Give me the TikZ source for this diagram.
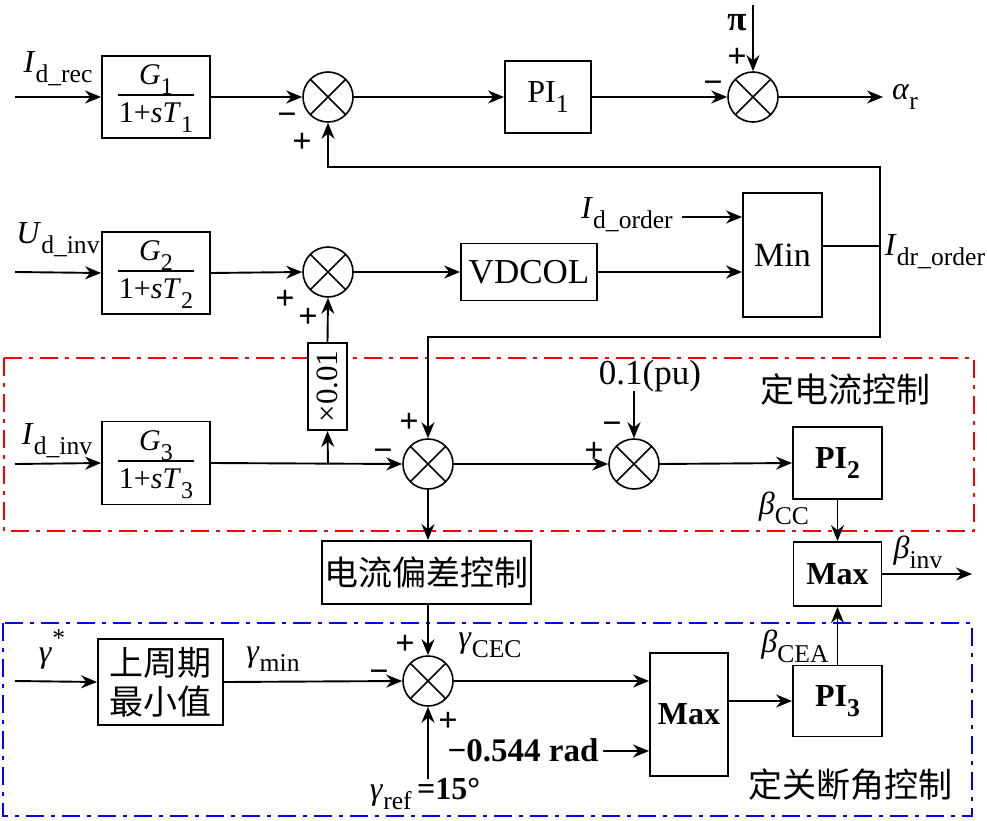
\documentclass[tikz,border=0pt]{standalone}
\usepackage{fontspec}
\setmainfont{Liberation Serif}
\newfontfamily\cjk{Noto Sans CJK SC}
\usetikzlibrary{arrows.meta}
\newcommand\lo[1]{\raisebox{-0.32em}{\scalebox{0.8}{#1}}}
\newcommand\gfrac[2]{{\setlength\arrayrulewidth{1.8pt}\begin{tabular}{@{\hspace{1pt}}c@{\hspace{1pt}}}#1\\[-1pt]\hline\rule{0pt}{27pt}#2\end{tabular}}}
\tikzset{
  blk/.style={draw, line width=1.9pt, fill=white, inner sep=0pt, align=center},
  sumnode/.style={draw, circle, line width=1.6pt, minimum size=50pt, inner sep=0pt,
    path picture={\draw[line width=1.6pt] (path picture bounding box.north west)--(path picture bounding box.south east)
      (path picture bounding box.north east)--(path picture bounding box.south west);}},
  arr/.style={line width=1.9pt, -{Stealth[length=16pt,width=13pt]}},
  ln/.style={line width=1.9pt},
  lbl/.style={inner sep=0pt, font=\fontsize{32}{36}\selectfont},
  sgn/.style={inner sep=0pt, text height=17pt, text depth=0pt, font=\bfseries\fontsize{34}{36}\selectfont, yshift=-6pt},
  zh/.style={inner sep=0pt, font=\cjk\fontsize{34}{40}\selectfont},
  reddash/.style={draw=red, line width=2.2pt, dash pattern=on 18pt off 7pt on 4pt off 7pt},
  bluedash/.style={draw=blue, line width=2.2pt, dash pattern=on 18pt off 7pt on 4pt off 7pt},
  fr/.style={font=\fontsize{30}{34}\selectfont}
}
\begin{document}
\begin{tikzpicture}[x=1pt,y=-1pt]
\useasboundingbox (0,0) rectangle (987,821);
\path[reddash] (4,358) rectangle (974,531);
\path[bluedash] (3,623) rectangle (972,816);

% ---------- blocks ----------
\node[blk, fr, minimum width=108pt, minimum height=82pt] (g1) at (156,97) {\gfrac{\textit{G}\lo{1}}{1+\textit{sT}\lo{1}}};
\node[blk, fr, minimum width=108pt, minimum height=82pt] (g2) at (156,273) {\gfrac{\textit{G}\lo{2}}{1+\textit{sT}\lo{2}}};
\node[blk, fr, minimum width=108pt, minimum height=83pt] (g3) at (156,463) {\gfrac{\textit{G}\lo{3}}{1+\textit{sT}\lo{3}}};
\node[blk, minimum width=86pt, minimum height=72pt, font=\fontsize{32}{36}\selectfont] (pi1) at (548,97) {PI\lo{1}};
\node[blk, minimum width=136pt, minimum height=57pt, font=\fontsize{35}{39}\selectfont] (vdcol) at (529,272) {VDCOL};
\node[blk, minimum width=79pt, minimum height=124pt, font=\fontsize{34}{38}\selectfont] (min) at (782.5,255) {Min};
\node[blk, minimum width=39pt, minimum height=87pt, font=\fontsize{31}{35}\selectfont] (x001) at (327.5,386.5) {\rotatebox{90}{×0.01}};
\node[blk, minimum width=89pt, minimum height=72pt, font=\bfseries\fontsize{32}{36}\selectfont] (pi2) at (837.5,463) {PI\lo{2}};
\node[blk, minimum width=88pt, minimum height=64pt, font=\bfseries\fontsize{32}{36}\selectfont] (max1) at (837.5,574) {Max};
\node[blk, zh, minimum width=209pt, minimum height=63pt] (dev) at (426.5,572.5) {电流偏差控制};
\node[blk, zh, minimum width=125pt, minimum height=86pt, font=\cjk\fontsize{34}{39}\selectfont] (lastmin) at (160.5,682) {上周期\\最小值};
\node[blk, minimum width=78pt, minimum height=123pt, font=\bfseries\fontsize{32}{36}\selectfont] (max2) at (689,714.5) {Max};
\node[blk, minimum width=89pt, minimum height=71pt, font=\bfseries\fontsize{32}{36}\selectfont] (pi3) at (837.5,701) {PI\lo{3}};

% ---------- summing junctions ----------
\node[sumnode] (s1) at (328,97) {};
\node[sumnode] (sT) at (753,97) {};
\node[sumnode] (s2) at (328,272) {};
\node[sumnode] (s3) at (428,464) {};
\node[sumnode] (s4) at (634,464) {};
\node[sumnode] (s5) at (428,681) {};

% ---------- signs ----------
\node[sgn] (s1m) at (287,111) {−};
\node[sgn] (s1p) at (302,138) {+};
\node[sgn] (sTm) at (713,79) {−};
\node[sgn] (sTp) at (737,53) {+};
\node[sgn] (s2p1) at (285,295) {+};
\node[sgn] (s2p2) at (308,313) {+};
\node[sgn] (s3p) at (409,418) {+};
\node[sgn] (s3m) at (383,447) {−};
\node[sgn] (s4p) at (594,447) {+};
\node[sgn] (s4m) at (612,420) {−};
\node[sgn] (s5p1) at (405,640) {+};
\node[sgn] (s5m) at (379,668) {−};
\node[sgn] (s5p2) at (448,717) {+};

% ---------- labels ----------
\node[lbl] (lidrec) at (58,69) {\textit{I}\lo{d\_rec}};
\node[lbl, font=\fontsize{35}{38}\selectfont, text depth=0pt] (pi) at (737,22) {\textbf{π}};
\node[lbl] (alphar) at (905,97) {\textit{α}\lo{r}};
\node[lbl] (ludinv) at (58,240) {\textit{U}\lo{d\_inv}};
\node[lbl] (lidorder) at (627,215) {\textit{I}\lo{d\_order}};
\node[lbl] (lidrorder) at (935,252) {\textit{I}\lo{dr\_order}};
\node[lbl] (lidinv) at (57,441) {\textit{I}\lo{d\_inv}};
\node[lbl, font=\fontsize{35}{38}\selectfont] (l01) at (650,376) {0.1(pu)};
\node[zh] (lcc) at (845,390) {定电流控制};
\node[lbl] (lbcc) at (784,508) {\textit{β}\lo{CC}};
\node[lbl] (lbinv) at (918,552) {\textit{β}\lo{inv}};
\node[lbl] (lbcea) at (795,646) {\textit{β}\lo{CEA}};
\node[lbl] (lgstar) at (52,650) {\textit{γ}\raisebox{0.5em}{\scalebox{0.8}{*}}};
\node[lbl] (lgmin) at (273,659) {\textit{γ}\lo{min}};
\node[lbl] (lgcec) at (490,645) {\textit{γ}\lo{CEC}};
\node[lbl] (lgref) at (425,794) {\textit{γ}\lo{ref}\,\textbf{=15°}};
\node[lbl, font=\bfseries\fontsize{33}{36}\selectfont] (l544) at (523,750) {−0.544 rad};
\node[zh] (lcea) at (850,785) {定关断角控制};

% ---------- coordinates ----------
\coordinate (in1) at (15,97);
\coordinate (in2) at (15,272);
\coordinate (in3) at (15,464);
\coordinate (in5) at (15,681);
\coordinate (pitop) at (753,5);
\coordinate (aout) at (883,97);
\coordinate (jr) at (880,246);
\coordinate (c1) at (880,167);
\coordinate (c2) at (880,337);
\coordinate (ido) at (682,217);
\coordinate (br) at (328,464);
\coordinate (p01) at (634,391);
\coordinate (bout) at (972,574);
\coordinate (gref) at (428,779);
\coordinate (r544) at (603,751);

% ---------- connectors ----------
\draw[arr] (in1) -- (g1.west);
\draw[arr] (g1.east) -- (s1.west);
\draw[arr] (s1.east) -- (pi1.west);
\draw[arr] (pi1.east) -- (sT.west);
\draw[arr] (pitop) -- (sT.north);
\draw[arr] (sT.east) -- (aout);

\draw[arr] (in2) -- (g2.west);
\draw[arr] (g2.east) -- (s2.west);
\draw[arr] (s2.east) -- (vdcol.west);
\draw[arr] (vdcol.east) -- (min.west |- vdcol.east);
\draw[arr] (ido) -- (min.west |- ido);
\draw[ln] (min.east |- jr) -- (jr);
\draw[arr] (jr) -- (c1) -| (s1.south);
\draw[arr] (jr) -- (c2) -| (s3.north);

\draw[arr] (in3) -- (g3.west);
\draw[arr] (g3.east) -- (s3.west);
\draw[arr] (br) -- (x001.south);
\draw[arr] (x001.north) -- (s2.south);
\draw[arr] (s3.east) -- (s4.west);
\draw[arr] (p01) -- (s4.north);
\draw[arr] (s4.east) -- (pi2.west);
\draw[arr] (pi2.south) -- (max1.north);
\draw[arr] (max1.east) -- (bout);

\draw[arr] (s3.south) -- (dev.north -| s3.south);
\draw[arr] (dev.south -| s5.north) -- (s5.north);

\draw[arr] (in5) -- (lastmin.west);
\draw[arr] (lastmin.east) -- (s5.west);
\draw[arr] (gref) -- (s5.south);
\draw[arr] (s5.east) -- (max2.west |- s5.east);
\draw[arr] (r544) -- (max2.west |- r544);
\draw[arr] (max2.east |- pi3.west) -- (pi3.west);
\draw[arr] (pi3.north) -- (max1.south);
\end{tikzpicture}
\end{document}
